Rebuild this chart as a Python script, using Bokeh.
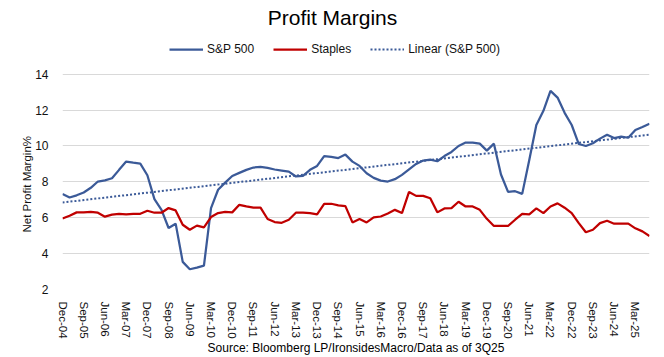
from bokeh.plotting import figure
from bokeh.models import (Legend, LegendItem, Label, Title, FixedTicker, Range1d)
from bokeh.embed import file_html
from bokeh.resources import INLINE

# ---- data (quarterly, Dec-04 .. Sep-25) ----
sp500 = [7.32, 7.13, 7.25, 7.41, 7.67, 8.02, 8.08, 8.2, 8.67, 9.13, 9.07, 9.02,
         8.37, 7.04, 6.44, 5.43, 5.67, 3.54, 3.13, 3.22, 3.33, 6.54, 7.56, 7.96,
         8.33, 8.5, 8.67, 8.8, 8.83, 8.78, 8.69, 8.63, 8.57, 8.3, 8.33, 8.67,
         8.89, 9.44, 9.39, 9.33, 9.52, 9.13, 8.89, 8.48, 8.22, 8.07, 8.02, 8.15,
         8.39, 8.7, 9.0, 9.19, 9.24, 9.15, 9.44, 9.67, 10.0, 10.19, 10.19, 10.13,
         9.74, 10.13, 8.41, 7.44, 7.48, 7.33, 9.22, 11.17, 11.96, 13.07, 12.7, 11.85,
         11.17, 10.11, 10.0, 10.15, 10.41, 10.63, 10.44, 10.52, 10.46, 10.89, 11.06, 11.24]

staples = [5.96, 6.11, 6.3, 6.3, 6.33, 6.28, 6.06, 6.17, 6.22, 6.19, 6.22, 6.22,
           6.39, 6.28, 6.28, 6.54, 6.41, 5.61, 5.33, 5.56, 5.46, 6.04, 6.26, 6.33,
           6.3, 6.72, 6.63, 6.56, 6.56, 5.93, 5.76, 5.72, 5.89, 6.28, 6.28, 6.26,
           6.19, 6.78, 6.78, 6.69, 6.65, 5.74, 5.93, 5.74, 6.02, 6.07, 6.24, 6.44,
           6.26, 7.44, 7.22, 7.22, 7.09, 6.3, 6.52, 6.54, 6.89, 6.63, 6.63, 6.44,
           5.94, 5.54, 5.54, 5.54, 5.89, 6.22, 6.19, 6.52, 6.26, 6.63, 6.8, 6.56,
           6.26, 5.7, 5.19, 5.33, 5.7, 5.83, 5.67, 5.67, 5.67, 5.41, 5.24, 4.98]

# linear trend line of S&P 500 (end values)
trend_x = [0, 83]
trend_y = [6.85, 10.63]

tick_labels = ["Dec-04", "Sep-05", "Jun-06", "Mar-07", "Dec-07", "Sep-08", "Jun-09",
               "Mar-10", "Dec-10", "Sep-11", "Jun-12", "Mar-13", "Dec-13", "Sep-14",
               "Jun-15", "Mar-16", "Dec-16", "Sep-17", "Jun-18", "Mar-19", "Dec-19",
               "Sep-20", "Jun-21", "Mar-22", "Dec-22", "Sep-23", "Jun-24", "Mar-25"]
y_ticks = [2, 4, 6, 8, 10, 12, 14]

x = list(range(len(sp500)))
tick_pos = list(range(0, len(sp500), 3))[:len(tick_labels)]

FONT = "Liberation Sans"
BLUE = "#3b5a98"
RED = "#c00000"
TXT = "#111111"

# the frame reaches the top of the page so title and legend can sit inside it;
# the y range above 14 is left empty (18 px per unit, 14 at 74 px from the top)
Y_TOP = 2 + 290 / 18

p = figure(width=664, height=357, output_backend="svg", toolbar_location=None,
           x_range=Range1d(0, len(sp500) - 1), y_range=Range1d(2, Y_TOP),
           min_border_left=62, min_border_right=15, min_border_top=0,
           min_border_bottom=67)
p.outline_line_color = None
p.background_fill_color = "white"
p.border_fill_color = "white"

r1 = p.line(x, sp500, line_color=BLUE, line_width=2.25)
r2 = p.line(x, staples, line_color=RED, line_width=2.25)
r3 = p.line(trend_x, trend_y, line_color=BLUE, line_width=2, line_dash="2 2")

# x axis (source note used as the axis label, centred under the frame)
p.xaxis.ticker = FixedTicker(ticks=tick_pos)
p.xaxis.major_label_overrides = {t: l for t, l in zip(tick_pos, tick_labels)}
p.xaxis.major_label_orientation = "vertical"
p.xaxis.major_label_text_font = FONT
p.xaxis.major_label_text_font_size = "11.5px"
p.xaxis.major_label_text_color = TXT
p.xaxis.major_label_standoff = 6
p.xaxis.axis_line_color = None
p.xaxis.major_tick_line_color = None
p.xaxis.minor_tick_line_color = None
p.xaxis.axis_label = "Source: Bloomberg LP/IronsidesMacro/Data as of 3Q25"
p.xaxis.axis_label_text_font = FONT
p.xaxis.axis_label_text_font_size = "12px"
p.xaxis.axis_label_text_font_style = "normal"
p.xaxis.axis_label_text_color = "#000000"
p.xaxis.axis_label_standoff = -1

# y axis
p.yaxis.ticker = FixedTicker(ticks=y_ticks)
p.yaxis.major_label_text_font = FONT
p.yaxis.major_label_text_font_size = "12px"
p.yaxis.major_label_text_color = TXT
p.yaxis.major_label_standoff = 8
p.yaxis.axis_line_color = None
p.yaxis.major_tick_line_color = None
p.yaxis.minor_tick_line_color = None

# y axis title, placed next to the 2..14 part of the axis
ytitle = Title(text="Net Profit Margin%", align="left", offset=57,
               vertical_align="bottom", standoff=0,
               text_font=FONT, text_font_size="11.5px", text_font_style="normal",
               text_color=TXT)
p.add_layout(ytitle, "left")

p.xgrid.grid_line_color = None
p.ygrid.grid_line_color = "#d9d9d9"
p.ygrid.grid_line_width = 1

# legend
legend = Legend(items=[LegendItem(label="S&P 500", renderers=[r1]),
                       LegendItem(label="Staples", renderers=[r2]),
                       LegendItem(label="Linear (S&P 500)", renderers=[r3])],
                location=(107, 233), orientation="horizontal",
                glyph_width=34, glyph_height=14, label_height=14,
                label_standoff=4, spacing=19, padding=0, margin=0,
                border_line_color=None, background_fill_alpha=0,
                label_text_font=FONT, label_text_font_size="12px",
                label_text_color=TXT)
p.add_layout(legend)

# chart title
title = Label(x=270, y=272, x_units="screen", y_units="screen",
              text="Profit Margins", text_font=FONT, text_font_size="21px",
              text_align="center", text_baseline="alphabetic", text_color="#000000")
p.add_layout(title)

open("out.html", "w").write(file_html(p, INLINE))
